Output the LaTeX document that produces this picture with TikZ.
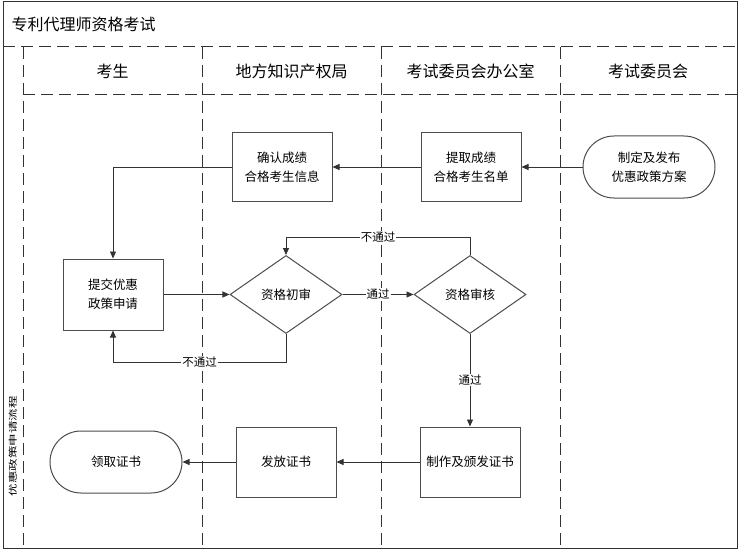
\documentclass[tikz,border=0pt]{standalone}
\usepackage{fontspec}
\setmainfont{Noto Sans CJK SC}
\usetikzlibrary{shapes.geometric,arrows.meta}
\begin{document}
\begin{tikzpicture}[x=1pt,y=-1pt,
  lane/.style={draw=black!80, line width=1pt, dash pattern=on 12pt off 6pt},
  box/.style={draw=black!70, line width=1pt, minimum width=100pt, minimum height=69pt,
    align=center, inner sep=2pt, font=\fontsize{12.5}{19}\selectfont},
  pill/.style={box, rounded corners=31pt, minimum width=132pt, minimum height=62pt},
  check/.style={diamond, draw=black!70, line width=1pt, minimum width=112pt,
    minimum height=78pt, inner sep=0pt, font=\fontsize{12.5}{15}\selectfont},
  flow/.style={draw=black!80, line width=0.9pt, -{Triangle[length=7pt,width=6pt]}},
  tag/.style={fill=white, inner sep=1pt, font=\fontsize{11.5}{13}\selectfont},
  head/.style={font=\fontsize{16}{18}\selectfont}]
\useasboundingbox (0,0) rectangle (740,551);
% frame and lanes
\draw[line width=1pt, black!80] (3,2) rectangle (737,548);
\draw[lane] (3,47) -- (737,47);
\draw[lane] (23,95) -- (737,95);
\foreach \x in {23,202,381,560}
  \draw[lane] (\x,47) -- (\x,548);
\node[head, anchor=west] (title) at (8,24) {专利代理师资格考试};
\node[head] (candidate) at (112.5,71) {考生};
\node[head] (office) at (291.5,71) {地方知识产权局};
\node[head] (secretariat) at (470.5,71) {考试委员会办公室};
\node[head] (committee) at (648,71) {考试委员会};
\node[rotate=90, font=\fontsize{12.5}{14}\selectfont] (process) at (13,446)
  {\scalebox{1}[0.7]{优惠政策申请流程}};
% steps
\node[pill] (plan) at (649,167) {制定及发布\\优惠政策方案};
\node[box] (pick) at (471,167) {提取成绩\\合格考生名单};
\node[box] (confirm) at (282,167) {确认成绩\\合格考生信息};
\node[box, minimum height=71pt] (apply) at (113,294.5) {提交优惠\\政策申请};
\node[check] (first) at (286,294.5) {资格初审};
\node[check] (review) at (470,294.5) {资格审核};
\node[box, minimum height=70pt] (make) at (470,462) {制作及颁发证书};
\node[box, minimum height=70pt] (issue) at (286,462) {发放证书};
\node[pill] (receive) at (116,462) {领取证书};
% connectors
\draw[flow] (plan) -- (pick);
\draw[flow] (pick) -- (confirm);
\draw[flow] (confirm.west) -| (apply.north);
\draw[flow] (apply) -- (first);
\draw[flow] (first) -- node[tag] {通过} (review);
\draw[flow] (review.north) -- ++(0,-18) -| node[tag, pos=0.25] {不通过} (first.north);
\draw[flow] (first.south) -- ++(0,28) -| node[tag, pos=0.25] {不通过} (apply.south);
\draw[flow] (review) -- node[tag] {通过} (make);
\draw[flow] (make) -- (issue);
\draw[flow] (issue) -- (receive);
\end{tikzpicture}
\end{document}
